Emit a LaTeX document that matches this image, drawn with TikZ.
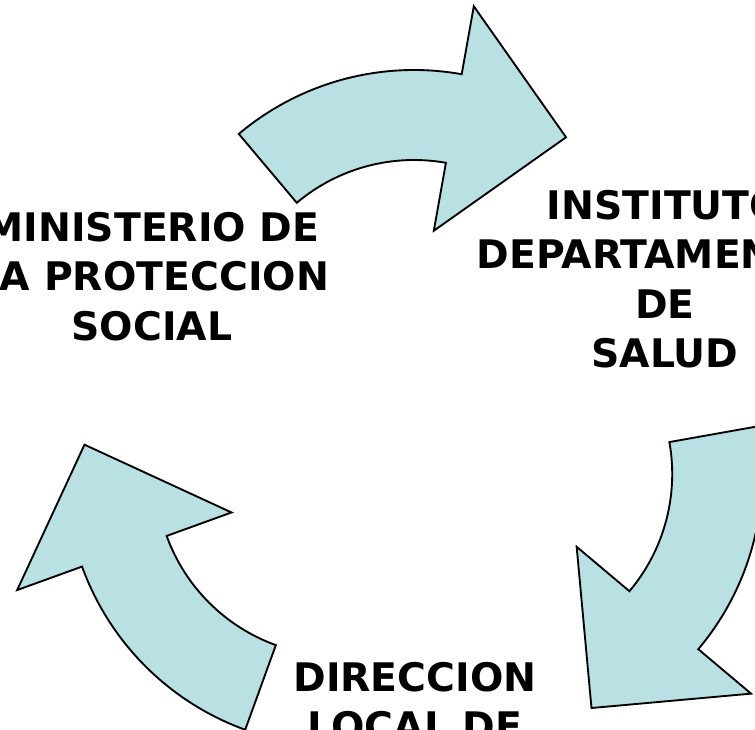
\documentclass[tikz,border=0pt]{standalone}
\usepackage{fontspec}
\setmainfont{DejaVu Sans}
\usetikzlibrary{positioning}
\definecolor{arrowblue}{RGB}{185,224,227}
\tikzstyle{cyclearrow} = [fill=arrowblue, draw=black, line width=1.4pt, line join=miter]
\tikzstyle{entity} = [align=center, font=\bfseries\fontsize{29.5}{37}\selectfont, inner sep=0pt, anchor=north]

\begin{document}
\begin{tikzpicture}[x=0.75pt, y=0.75pt]
\clip (0,0) rectangle (755,730);

% one arrow shape, turned three times about the middle
\foreach \turn in {0,120,240}
  \draw[cyclearrow, rotate around={\turn:(414,300)}, shift={(414,388)}]
    (130.1:272) arc[start angle=130.1, end angle=79.9, radius=272]
    -- (79.9:341) -- (53.4:255) -- (79.9:113) -- (79.9:182)
    arc[start angle=79.9, end angle=130.1, radius=182] -- cycle;

\node (ministerio) [entity] at (152,518) {MINISTERIO DE\\LA PROTECCION\\SOCIAL};
\node (instituto) [entity] at (665,540) {INSTITUTO\\DEPARTAMENTAL\\DE\\SALUD};
\node (direccion) [entity] at (415,68) {DIRECCION\\LOCAL DE};
\end{tikzpicture}
\end{document}
